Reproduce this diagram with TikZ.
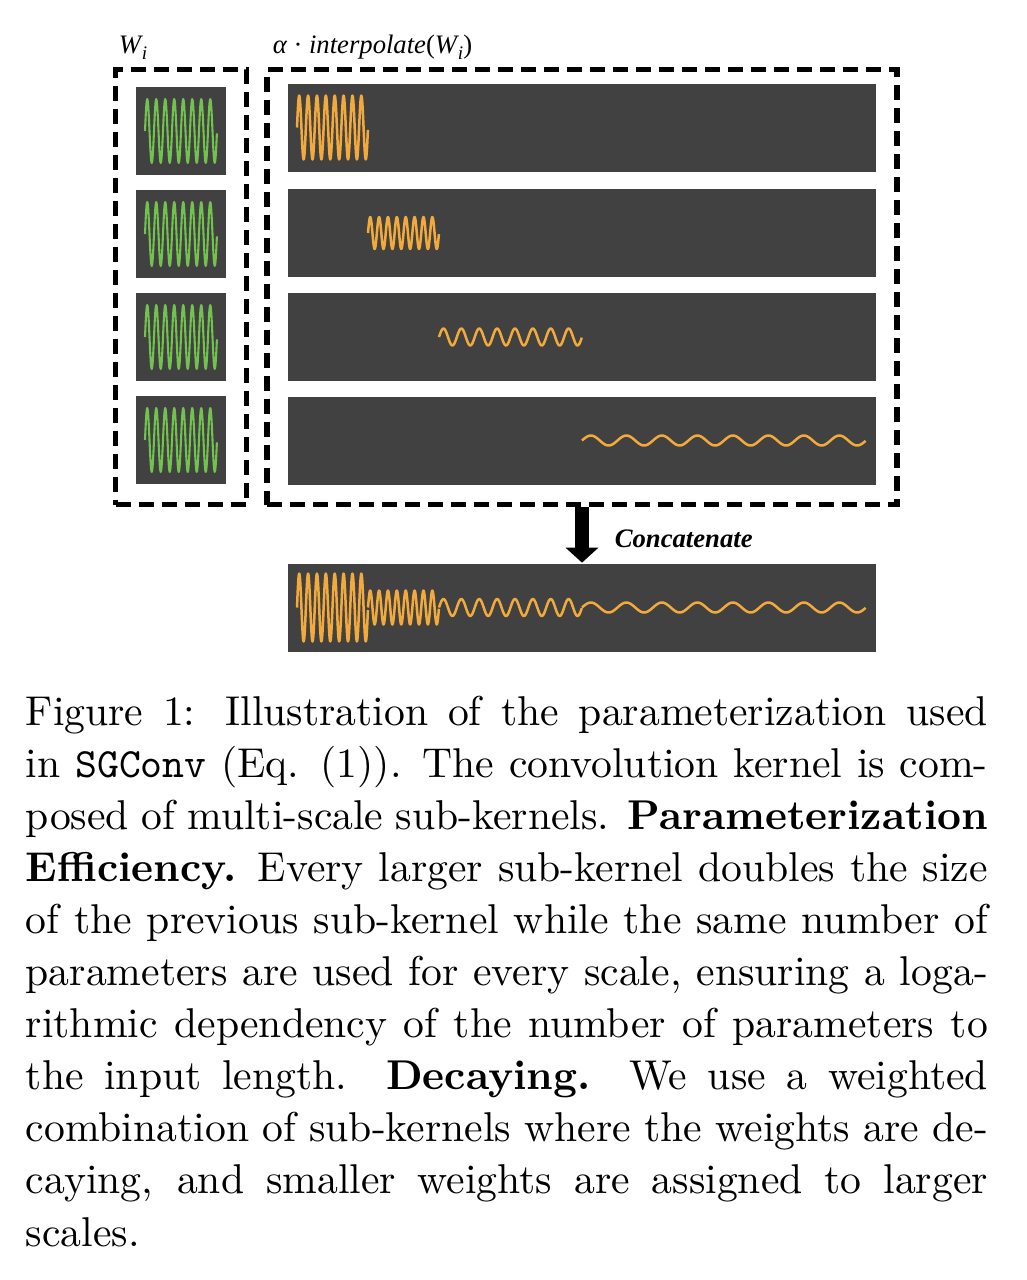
\documentclass[tikz,border=0pt]{standalone}
\usepackage{fontspec}
\newfontfamily\lblfont{Liberation Serif}
\usetikzlibrary{arrows.meta}
\definecolor{barc}{HTML}{414141}
\definecolor{kgreen}{HTML}{72C24E}
\definecolor{korange}{HTML}{F1AA3B}
\newcommand\sgwave[5]{\draw[#1] plot[domain=0:1,samples=161,smooth] ({#2+(#3-#2)*\x},{#4-#5*sin(2880*\x)});}
\newcommand\sgsub[1]{\kern0.2pt\raisebox{-0.25em}{\fontsize{4.6}{5}\selectfont #1}}
\begin{document}
\begin{tikzpicture}[x=0.24pt,y=-0.24pt,
  bar/.style={fill=barc,draw=none,inner sep=0pt,minimum width=141.12pt,minimum height=21.12pt},
  gbox/.style={fill=barc,draw=none,inner sep=0pt,minimum width=21.6pt,minimum height=21.12pt},
  dbox/.style={draw=black,line width=1.32pt,dash pattern=on 3.6pt off 1.92pt,inner sep=0pt,minimum height=104.4pt},
  gwave/.style={kgreen,line width=0.5pt,line join=round},
  owave/.style={korange,line width=0.6pt,line join=round},
  lab/.style={anchor=base west,inner sep=0pt,font=\lblfont\itshape\fontsize{6.4}{7}\selectfont},
  clab/.style={anchor=base west,inner sep=0pt,font=\lblfont\bfseries\itshape\fontsize{6.4}{7}\selectfont},
  capline/.style={anchor=base west,inner sep=0pt,font=\fontsize{10}{12.5}\selectfont},
  bigarrow/.style={line width=3.36pt,-{Triangle[width=7.68pt,length=3.6pt]}}
]
\useasboundingbox (0,0) rectangle (1026,1280);

% dashed frames
\node[dbox,minimum width=31.44pt] (lbox) at (181,287) {};
\node[dbox,minimum width=151.2pt] (rbox) at (582,287) {};

% labels
\node[lab] (lw) at (118,53) {W\sgsub{i}};
\node[lab] (lr) at (272,53) {α {\upshape·} interpolate{\upshape(}W\sgsub{i}{\upshape)}};

% green boxes
\node[gbox] (g1) at (181,131) {};
\node[gbox] (g2) at (181,234) {};
\node[gbox] (g3) at (181,337) {};
\node[gbox] (g4) at (181,440) {};
\sgwave{gwave}{145}{217}{131}{32}
\sgwave{gwave}{145}{217}{234}{32}
\sgwave{gwave}{145}{217}{337}{32}
\sgwave{gwave}{145}{217}{440}{32}

% interpolated bars
\node[bar] (b1) at (582,127.5) {};
\node[bar] (b2) at (582,233) {};
\node[bar] (b3) at (582,337) {};
\node[bar] (b4) at (582,440.5) {};
\sgwave{owave}{297}{368}{127.5}{32}
\sgwave{owave}{368}{439}{233}{16}
\sgwave{owave}{439}{582}{337}{8.5}
\sgwave{owave}{582}{866}{440.5}{5}

% concatenated bar
\node[bar] (bot) at (582,607.5) {};
\sgwave{owave}{297}{368}{607.5}{34}
\sgwave{owave}{368}{439}{607.5}{17}
\sgwave{owave}{439}{582}{607.5}{8.5}
\sgwave{owave}{582}{866}{607.5}{5}

% arrow
\draw[bigarrow] (rbox.south) -- (bot.north);
\node[clab] (cc) at (614,547) {Concatenate};

% caption
\node[capline] (c1) at (25,725) {\makebox[230.9pt][s]{Figure 1: Illustration of the parameterization used}};
\node[capline] (c2) at (25,777.1) {\makebox[230.9pt][s]{in \texttt{SGConv} (Eq. (1)). The convolution kernel is com-}};
\node[capline] (c3) at (25,829.2) {\makebox[230.9pt][s]{posed of multi-scale sub-kernels. \textbf{Parameterization}}};
\node[capline] (c4) at (25,881.3) {\makebox[230.9pt][s]{\textbf{Efficiency.} Every larger sub-kernel doubles the size}};
\node[capline] (c5) at (25,933.4) {\makebox[230.9pt][s]{of the previous sub-kernel while the same number of}};
\node[capline] (c6) at (25,985.5) {\makebox[230.9pt][s]{parameters are used for every scale, ensuring a loga-}};
\node[capline] (c7) at (25,1037.6) {\makebox[230.9pt][s]{rithmic dependency of the number of parameters to}};
\node[capline] (c8) at (25,1089.7) {\makebox[230.9pt][s]{the input length. \textbf{Decaying.} We use a weighted}};
\node[capline] (c9) at (25,1141.8) {\makebox[230.9pt][s]{combination of sub-kernels where the weights are de-}};
\node[capline] (c10) at (25,1193.9) {\makebox[230.9pt][s]{caying, and smaller weights are assigned to larger}};
\node[capline] (c11) at (25,1246) {scales.};
\end{tikzpicture}
\end{document}
